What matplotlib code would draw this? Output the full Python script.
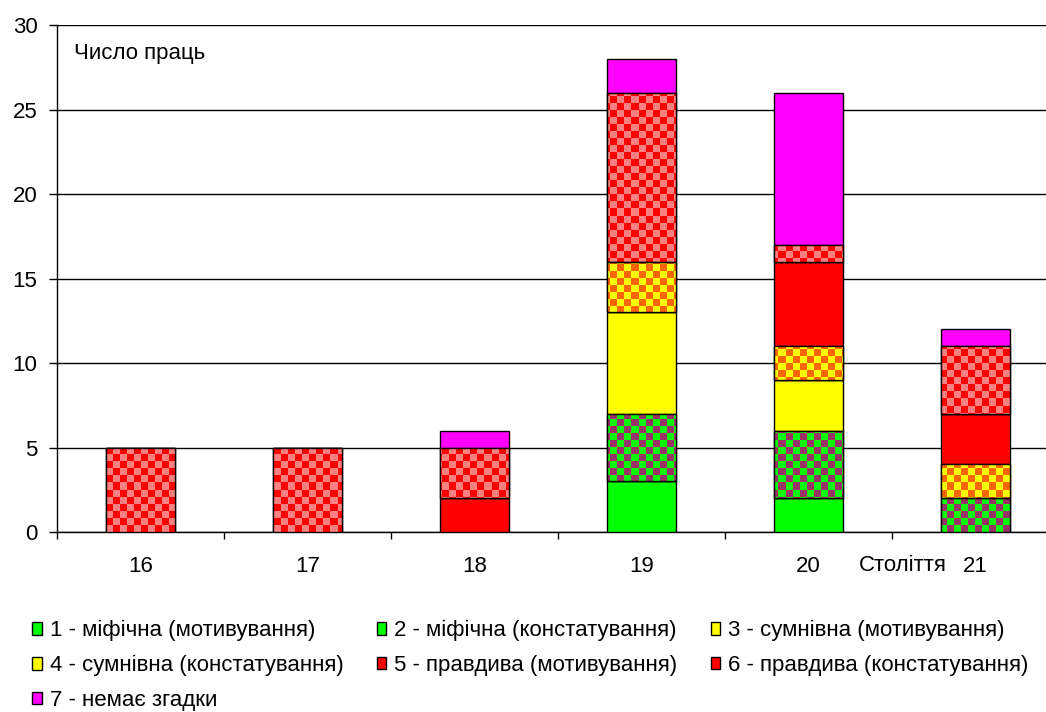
import numpy as np
import matplotlib
matplotlib.use("Agg")
import matplotlib.pyplot as plt
from matplotlib.patches import Patch

plt.rcParams["font.family"] = ["Liberation Sans", "DejaVu Sans"]

centuries = ["16", "17", "18", "19", "20", "21"]
labels = [
    "1 - міфічна (мотивування)",
    "2 - міфічна (констатування)",
    "3 - сумнівна (мотивування)",
    "4 - сумнівна (констатування)",
    "5 - правдива (мотивування)",
    "6 - правдива (констатування)",
    "7 - немає згадки",
]
mythic_motiv = [0, 0, 0, 3, 2, 0]
mythic_const = [0, 0, 0, 4, 4, 2]
doubt_motiv = [0, 0, 0, 6, 3, 0]
doubt_const = [0, 0, 0, 3, 2, 2]
true_motiv = [0, 0, 2, 0, 5, 3]
true_const = [5, 5, 3, 10, 1, 4]
no_mention = [0, 0, 1, 2, 9, 1]

series = [mythic_motiv, mythic_const, doubt_motiv, doubt_const,
          true_motiv, true_const, no_mention]
# (main colour, checker colour or None)
styles = [
    ("#00FF00", None),
    ("#00FF00", "#993366"),
    ("#FFFF00", None),
    ("#FFFF00", "#FF6600"),
    ("#FF0000", None),
    ("#FF0000", "#FF8080"),
    ("#FF00FF", None),
]

fig = plt.figure(figsize=(10.46, 7.12), dpi=100)
ax = fig.add_axes([0.0545, 0.2528, 0.958, 0.712])

x = np.arange(len(centuries))

# checkerboard images covering the whole axes, ~7px squares
ax_w_px = 0.958 * 1046
ax_h_px = 0.712 * 712
nx = int(round(ax_w_px / 7))
ny = int(round(ax_h_px / 7))
cb = (np.indices((ny, nx)).sum(axis=0) % 2).astype(float)

bottom = np.zeros(len(centuries))
for vals, (c1, c2) in zip(series, styles):
    vals = np.array(vals, dtype=float)
    bars = ax.bar(x, vals, 0.41, bottom=bottom, color=c1,
                  edgecolor="black", linewidth=1, zorder=3)
    if c2 is not None:
        cmap = matplotlib.colors.ListedColormap([c1, c2])
        for b, v in zip(bars, vals):
            if v <= 0:
                continue
            im = ax.imshow(cb, cmap=cmap, extent=(-0.5, 5.5, 0, 30),
                           aspect="auto", interpolation="nearest",
                           origin="lower", zorder=3.5)
            im.set_clip_path(b)
            ax.bar(b.get_x() + b.get_width() / 2, v, b.get_width(),
                   bottom=b.get_y(), facecolor="none", edgecolor="black",
                   linewidth=1, zorder=4)
    bottom += vals

ax.set_xlim(-0.5, 5.5)
ax.set_ylim(0, 30)

ax.set_yticks(range(0, 31, 5))
ax.yaxis.grid(True, color="black", linewidth=1)
ax.set_axisbelow(True)
ax.tick_params(axis="y", length=6, width=1, labelsize=16, pad=8)

ax.set_xticks(x)
ax.set_xticklabels(centuries, fontsize=16)
ax.set_xticks(np.arange(-0.5, 5.6, 1), minor=True)
ax.tick_params(axis="x", which="major", length=0, pad=17)
ax.tick_params(axis="x", which="minor", length=5, width=1)

for s in ["top", "right"]:
    ax.spines[s].set_visible(False)
for s in ["left", "bottom"]:
    ax.spines[s].set_linewidth(1)

ax.text(0.017, 0.943, "Число праць", transform=ax.transAxes,
        fontsize=16, va="center", ha="left")
ax.text(4.3, -0.066, "Століття", transform=ax.get_xaxis_transform(),
        fontsize=16, va="center", ha="left")

handles = [Patch(facecolor=c1, edgecolor="black", linewidth=1) for c1, _ in styles]
order = [0, 3, 6, 1, 4, 2, 5]
fig.legend([handles[i] for i in order], [labels[i] for i in order],
           ncol=3, loc="upper left", bbox_to_anchor=(0.031, 0.129),
           frameon=False, fontsize=16, handlelength=0.42, handleheight=0.5,
           handletextpad=0.36, columnspacing=1.5, labelspacing=0.62,
           borderpad=0, borderaxespad=0)

fig.savefig("out.png", dpi=100)
